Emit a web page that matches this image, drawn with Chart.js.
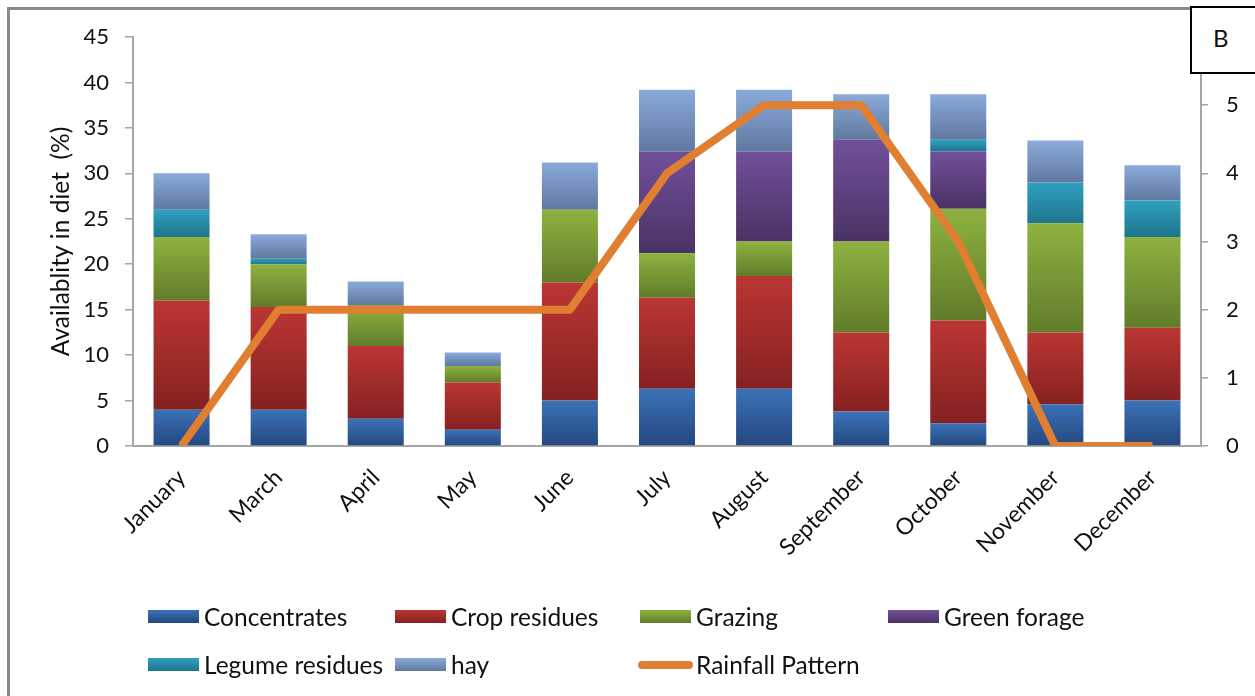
<!DOCTYPE html>
<html>
<head>
<meta charset="utf-8">
<script src="https://cdn.jsdelivr.net/npm/chart.js@4.4.1/dist/chart.umd.min.js"></script>
<style>
html,body{margin:0;padding:0;background:#fff;}
#wrap{position:relative;width:1255px;height:696px;overflow:hidden;font-family:Lato,"Open Sans",sans-serif;color:#111;}
#frame{position:absolute;left:7px;top:7px;width:1400px;height:800px;border:3px solid #8a8a8a;box-sizing:border-box;}
#cv{position:absolute;left:0;top:0;}
#tag{position:absolute;left:1190px;top:6px;width:120px;height:68px;border:2px solid #000;background:#fff;box-sizing:border-box;}
#tag span{position:absolute;left:21px;top:16px;font-size:24px;line-height:28px;}
.lbox{position:absolute;height:13px;width:51px;}
.lline{position:absolute;height:8px;width:55px;border-radius:4px;}
.ltxt{position:absolute;font-size:24.5px;line-height:28px;white-space:nowrap;}
</style>
</head>
<body>
<div id="wrap">
  <div id="frame"></div>
  <canvas id="cv" width="1255" height="696"></canvas>
  <div id="tag"><span>B</span></div>
  <div id="legend"></div>
</div>
<script>
// ---- data ----
const categories = ['January','March','April','May','June','July','August','September','October','November','December'];
const concentrates = [4, 4, 3, 1.8, 5, 6.3, 6.3, 3.8, 2.5, 4.6, 5];
const cropResidues = [12, 11.3, 8, 5.2, 13, 10, 12.4, 8.7, 11.3, 7.9, 8];
const grazing      = [7, 4.7, 4.5, 1.8, 8, 4.9, 3.8, 10, 12.3, 12, 10];
const greenForage  = [0, 0, 0, 0, 0, 11.2, 9.9, 11.2, 6.3, 0, 0];
const legumeResidues = [3, 0.6, 0, 0, 0, 0, 0, 0, 1.3, 4.5, 4];
const hay          = [4, 2.7, 2.6, 1.5, 5.2, 6.8, 6.8, 5, 5, 4.6, 3.9];
const rainfall     = [0, 2, 2, 2, 2, 4, 5, 5, 3, 0, 0];
const leftTicks = [0,5,10,15,20,25,30,35,40,45];
const rightTicks = [0,1,2,3,4,5];

const barSeries = [concentrates, cropResidues, grazing, greenForage, legumeResidues, hay];
const barLabels = ['Concentrates','Crop residues','Grazing','Green forage','Legume residues','hay'];
const barColors = [
  ['#3c71b8','#23487e'],
  ['#bb3633','#852121'],
  ['#8eb240','#617c2a'],
  ['#71509a','#4a3265'],
  ['#2fa0bf','#1f758d'],
  ['#8babdc','#5f789e']
];
const lineColor = '#e07f32';

function segGradient(dsIndex) {
  const [topC, botC] = barColors[dsIndex];
  return function(ctx) {
    const chart = ctx.chart;
    if (!chart.chartArea || ctx.type !== 'data') return botC;
    const i = ctx.dataIndex;
    let base = 0;
    for (let k = 0; k < dsIndex; k++) base += barSeries[k][i];
    const v = barSeries[dsIndex][i];
    const ys = chart.scales.y;
    const yTop = ys.getPixelForValue(base + v), yBot = ys.getPixelForValue(base);
    if (!isFinite(yTop) || !isFinite(yBot) || Math.abs(yTop - yBot) < 0.5) return botC;
    const g = chart.ctx.createLinearGradient(0, yTop, 0, yBot);
    g.addColorStop(0, topC);
    g.addColorStop(1, botC);
    return g;
  };
}

const FONT = 'Lato';
const datasets = [{
  type: 'line',
  label: 'Rainfall Pattern',
  data: rainfall,
  yAxisID: 'y1',
  borderColor: lineColor,
  backgroundColor: lineColor,
  borderWidth: 8,
  pointRadius: 0,
  tension: 0,
  borderJoinStyle: 'round',
  borderCapStyle: 'butt',
  order: 0
}];
barSeries.forEach((s, k) => {
  datasets.push({
    type: 'bar',
    label: barLabels[k],
    data: s,
    yAxisID: 'y',
    backgroundColor: segGradient(k),
    borderWidth: 0,
    categoryPercentage: 1,
    barPercentage: 0.577,
    order: 1
  });
});

new Chart(document.getElementById('cv'), {
  data: { labels: categories, datasets },
  options: {
    responsive: false,
    animation: false,
    layout: { padding: { top: 37, left: 0, right: 0, bottom: 0 } },
    plugins: { legend: { display: false }, tooltip: { enabled: false } },
    scales: {
      x: {
        stacked: true,
        grid: { display: false, drawTicks: false },
        border: { display: true, color: '#a6a6a6', width: 2 },
        ticks: { color: '#111', font: { family: FONT, size: 23 }, minRotation: 45, maxRotation: 45, padding: 18, autoSkip: false },
        afterFit: s => { s.height = 250; }
      },
      y: {
        stacked: true,
        position: 'left',
        min: 0, max: 45,
        afterBuildTicks: s => { s.ticks = leftTicks.map(v => ({ value: v })); },
        grid: { drawOnChartArea: false, drawTicks: true, tickLength: 8, color: '#a6a6a6', lineWidth: 1.5 },
        border: { display: true, color: '#a6a6a6', width: 2 },
        ticks: { color: '#111', font: { family: FONT, size: 22 }, padding: 16 },
        title: { display: true, text: 'Availablity in diet  (%)', color: '#111', font: { family: FONT, size: 24.5 }, padding: { top: 46, bottom: 0 } },
        afterFit: s => { s.width = 133; }
      },
      y1: {
        position: 'right',
        min: 0, max: 6,
        afterBuildTicks: s => { s.ticks = rightTicks.map(v => ({ value: v })); },
        grid: { drawOnChartArea: false, drawTicks: true, tickLength: 7, color: '#a6a6a6', lineWidth: 1.5 },
        border: { display: true, color: '#a6a6a6', width: 2 },
        ticks: { color: '#111', font: { family: FONT, size: 22 }, padding: 18 },
        afterFit: s => { s.width = 54; }
      }
    }
  }
});

// ---- legend (HTML) ----
const legendSlots = [
  [148, 617], [395, 617], [640, 617], [888, 617],
  [148, 665], [395, 665], [640, 665]
];
const legendItems = barLabels.map((l, k) => ({ label: l, kind: 'box', colors: barColors[k] }))
  .concat([{ label: 'Rainfall Pattern', kind: 'line', colors: [lineColor, lineColor] }]);
const lg = document.getElementById('legend');
legendItems.forEach((it, n) => {
  const [x, cy] = legendSlots[n];
  const m = document.createElement('div');
  if (it.kind === 'box') {
    m.className = 'lbox';
    m.style.left = x + 'px';
    m.style.top = (cy - 7) + 'px';
    m.style.background = 'linear-gradient(' + it.colors[0] + ',' + it.colors[1] + ')';
  } else {
    m.className = 'lline';
    m.style.left = (x - 2) + 'px';
    m.style.top = (cy - 4) + 'px';
    m.style.background = it.colors[0];
  }
  lg.appendChild(m);
  const t = document.createElement('div');
  t.className = 'ltxt';
  t.textContent = it.label;
  t.style.left = (x + 56) + 'px';
  t.style.top = (cy - 14) + 'px';
  lg.appendChild(t);
});
</script>
</body>
</html>
